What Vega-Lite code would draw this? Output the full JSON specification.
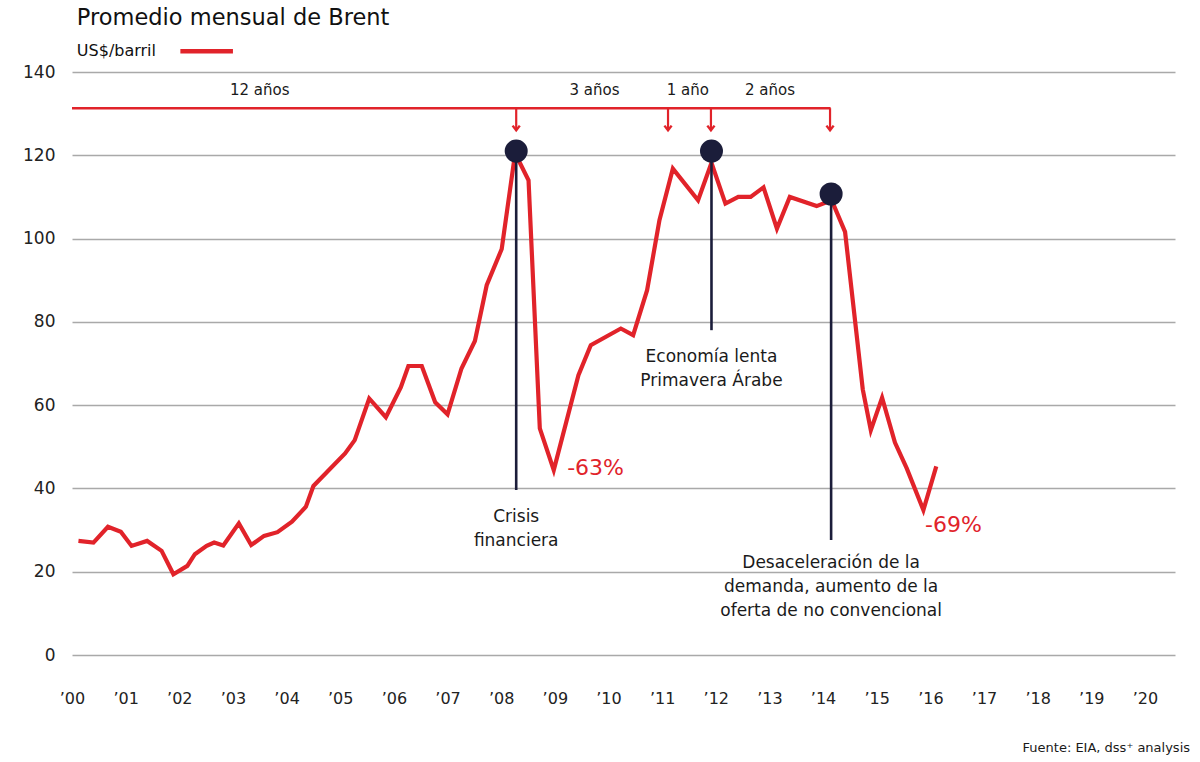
{
  "$schema": "https://vega.github.io/schema/vega-lite/v6.json",
  "autosize": {"type": "none"},
  "width": 1103,
  "height": 583,
  "padding": {"left": 72, "top": 72, "right": 25, "bottom": 107},
  "background": "white",
  "config": {"view": {"stroke": null}, "font": "DejaVu Sans", "text": {"font": "DejaVu Sans"}},
  "datasets": {
    "brent": [
      {"t": 2000.12, "v": 27.4}, {"t": 2000.40, "v": 27.0}, {"t": 2000.67, "v": 30.8}, {"t": 2000.91, "v": 29.6},
      {"t": 2001.11, "v": 26.2}, {"t": 2001.40, "v": 27.4}, {"t": 2001.67, "v": 25.0}, {"t": 2001.89, "v": 19.4},
      {"t": 2002.15, "v": 21.4}, {"t": 2002.29, "v": 24.2}, {"t": 2002.51, "v": 26.2}, {"t": 2002.65, "v": 27.0},
      {"t": 2002.82, "v": 26.3}, {"t": 2003.11, "v": 31.6}, {"t": 2003.34, "v": 26.4}, {"t": 2003.58, "v": 28.6},
      {"t": 2003.83, "v": 29.5}, {"t": 2004.10, "v": 32.0}, {"t": 2004.36, "v": 35.6}, {"t": 2004.50, "v": 40.6},
      {"t": 2005.09, "v": 48.4}, {"t": 2005.27, "v": 51.6}, {"t": 2005.54, "v": 61.6}, {"t": 2005.85, "v": 57.1},
      {"t": 2006.13, "v": 64.3}, {"t": 2006.27, "v": 69.4}, {"t": 2006.52, "v": 69.4}, {"t": 2006.77, "v": 60.7},
      {"t": 2007.00, "v": 57.8}, {"t": 2007.26, "v": 68.8}, {"t": 2007.51, "v": 75.4}, {"t": 2007.73, "v": 88.8},
      {"t": 2008.01, "v": 97.5}, {"t": 2008.26, "v": 120.5}, {"t": 2008.51, "v": 114.0}, {"t": 2008.72, "v": 54.4},
      {"t": 2008.98, "v": 44.4}, {"t": 2009.44, "v": 67.2}, {"t": 2009.67, "v": 74.4}, {"t": 2010.23, "v": 78.4},
      {"t": 2010.46, "v": 76.8}, {"t": 2010.72, "v": 87.6}, {"t": 2010.95, "v": 104.4}, {"t": 2011.20, "v": 116.8},
      {"t": 2011.67, "v": 109.2}, {"t": 2011.92, "v": 118.2}, {"t": 2012.18, "v": 108.4}, {"t": 2012.42, "v": 110.0},
      {"t": 2012.65, "v": 110.0}, {"t": 2012.89, "v": 112.3}, {"t": 2013.14, "v": 102.4}, {"t": 2013.38, "v": 110.0},
      {"t": 2013.88, "v": 107.8}, {"t": 2014.16, "v": 109.2}, {"t": 2014.41, "v": 101.6}, {"t": 2014.74, "v": 63.8},
      {"t": 2014.89, "v": 54.0}, {"t": 2015.10, "v": 61.8}, {"t": 2015.34, "v": 51.0}, {"t": 2015.56, "v": 44.8},
      {"t": 2015.87, "v": 34.8}, {"t": 2016.11, "v": 45.3}
    ],
    "events": [
      {"t": 2008.28, "top": 121.0, "bottom": 39.6, "label": "Crisis\nfinanciera", "ly": 33.1},
      {"t": 2011.92, "top": 121.0, "bottom": 78.0, "label": "Economía lenta\nPrimavera Árabe", "ly": 71.5},
      {"t": 2014.15, "top": 110.7, "bottom": 27.6, "label": "Desaceleración de la\ndemanda, aumento de la\noferta de no convencional", "ly": 22.1}
    ],
    "bracket": [{"t1": 2000.0, "t2": 2014.14, "v": 131.3}],
    "arrows": [
      {"t": 2008.28, "top": 131.3, "tip": 126.0},
      {"t": 2011.11, "top": 131.3, "tip": 126.0},
      {"t": 2011.91, "top": 131.3, "tip": 126.0},
      {"t": 2014.13, "top": 131.3, "tip": 126.0}
    ],
    "spans": [
      {"t": 2003.50, "v": 135.6, "label": "12 años"},
      {"t": 2009.74, "v": 135.6, "label": "3 años"},
      {"t": 2011.48, "v": 135.6, "label": "1 año"},
      {"t": 2013.01, "v": 135.6, "label": "2 años"}
    ],
    "changes": [
      {"t": 2009.23, "v": 44.9, "label": "-63%"},
      {"t": 2015.90, "v": 31.2, "label": "-69%"}
    ],
    "legendline": [{"t1": 2002.02, "t2": 2003.0, "v": 145.0}],
    "headings": [
      {"t": 2000.09, "v": 152.9, "label": "Promedio mensual de Brent", "kind": "title"},
      {"t": 2000.09, "v": 145.0, "label": "US$/barril", "kind": "unit"}
    ],
    "source": [{"t": 2020.84, "v": -22.3, "label": "Fuente: EIA, dss⁺ analysis"}]
  },
  "layer": [
    {
      "data": {"name": "brent"},
      "mark": {"type": "line", "color": "#e1232a", "strokeWidth": 4.2, "strokeJoin": "miter"},
      "encoding": {
        "x": {"field": "t", "type": "quantitative",
              "scale": {"domain": [2000, 2020.56], "nice": false, "zero": false},
              "axis": {"values": [2000,2001,2002,2003,2004,2005,2006,2007,2008,2009,2010,2011,2012,2013,2014,2015,2016,2017,2018,2019,2020],
                       "labelExpr": "'’' + substring(toString(datum.value), 2, 4)",
                       "grid": false, "domain": false, "ticks": false, "labelPadding": 35,
                       "labelFontSize": 16, "labelFont": "DejaVu Sans", "labelColor": "#222222",
                       "labelFlush": false, "labelOverlap": false, "labelBound": false, "title": null}},
        "y": {"field": "v", "type": "quantitative",
              "scale": {"domain": [0, 140], "nice": false},
              "axis": {"values": [0,20,40,60,80,100,120,140], "grid": true, "gridColor": "#a9a9a9", "gridWidth": 1.5,
                       "domain": false, "ticks": false, "labelPadding": 17, "labelFontSize": 17,
                       "labelFont": "DejaVu Sans", "labelColor": "#222222", "title": null}}
      }
    },
    {
      "data": {"name": "events"},
      "mark": {"type": "rule", "color": "#1b1d3a", "strokeWidth": 2.6},
      "encoding": {
        "x": {"field": "t", "type": "quantitative"},
        "y": {"field": "top", "type": "quantitative"},
        "y2": {"field": "bottom"}
      }
    },
    {
      "data": {"name": "events"},
      "mark": {"type": "point", "shape": "circle", "filled": true, "size": 530, "color": "#1b1d3a", "opacity": 1},
      "encoding": {
        "x": {"field": "t", "type": "quantitative"},
        "y": {"field": "top", "type": "quantitative"}
      }
    },
    {
      "data": {"name": "events"},
      "mark": {"type": "text", "align": "center", "baseline": "middle", "fontSize": 17, "lineBreak": "\n", "lineHeight": 24, "color": "#1a1a1a"},
      "encoding": {
        "x": {"field": "t", "type": "quantitative"},
        "y": {"field": "ly", "type": "quantitative"},
        "text": {"field": "label"}
      }
    },
    {
      "data": {"name": "bracket"},
      "mark": {"type": "rule", "color": "#e1232a", "strokeWidth": 2.6},
      "encoding": {
        "x": {"field": "t1", "type": "quantitative"},
        "x2": {"field": "t2"},
        "y": {"field": "v", "type": "quantitative"}
      }
    },
    {
      "data": {"name": "arrows"},
      "mark": {"type": "rule", "color": "#e1232a", "strokeWidth": 2.2},
      "encoding": {
        "x": {"field": "t", "type": "quantitative"},
        "y": {"field": "top", "type": "quantitative"},
        "y2": {"field": "tip"}
      }
    },
    {
      "data": {"name": "arrows"},
      "mark": {"type": "point", "shape": "M-1,-1.3L0,0L1,-1.3", "filled": false, "size": 52, "color": "#e1232a", "strokeWidth": 2.4, "opacity": 1},
      "encoding": {
        "x": {"field": "t", "type": "quantitative"},
        "y": {"field": "tip", "type": "quantitative"}
      }
    },
    {
      "data": {"name": "spans"},
      "mark": {"type": "text", "align": "center", "baseline": "middle", "fontSize": 15, "color": "#1a1a1a"},
      "encoding": {
        "x": {"field": "t", "type": "quantitative"},
        "y": {"field": "v", "type": "quantitative"},
        "text": {"field": "label"}
      }
    },
    {
      "data": {"name": "changes"},
      "mark": {"type": "text", "align": "left", "baseline": "middle", "fontSize": 22, "color": "#e1232a"},
      "encoding": {
        "x": {"field": "t", "type": "quantitative"},
        "y": {"field": "v", "type": "quantitative"},
        "text": {"field": "label"}
      }
    },
    {
      "data": {"name": "legendline"},
      "mark": {"type": "rule", "color": "#e1232a", "strokeWidth": 4.5},
      "encoding": {
        "x": {"field": "t1", "type": "quantitative"},
        "x2": {"field": "t2"},
        "y": {"field": "v", "type": "quantitative"}
      }
    },
    {
      "data": {"name": "headings"},
      "mark": {"type": "text", "align": "left", "baseline": "middle", "color": "#111111"},
      "encoding": {
        "x": {"field": "t", "type": "quantitative"},
        "y": {"field": "v", "type": "quantitative"},
        "text": {"field": "label"},
        "size": {"field": "kind", "type": "nominal", "scale": {"domain": ["title", "unit"], "range": [22.5, 16]}, "legend": null}
      }
    },
    {
      "data": {"name": "source"},
      "mark": {"type": "text", "align": "right", "baseline": "middle", "fontSize": 13, "color": "#1a1a1a"},
      "encoding": {
        "x": {"field": "t", "type": "quantitative"},
        "y": {"field": "v", "type": "quantitative"},
        "text": {"field": "label"}
      }
    }
  ]
}
